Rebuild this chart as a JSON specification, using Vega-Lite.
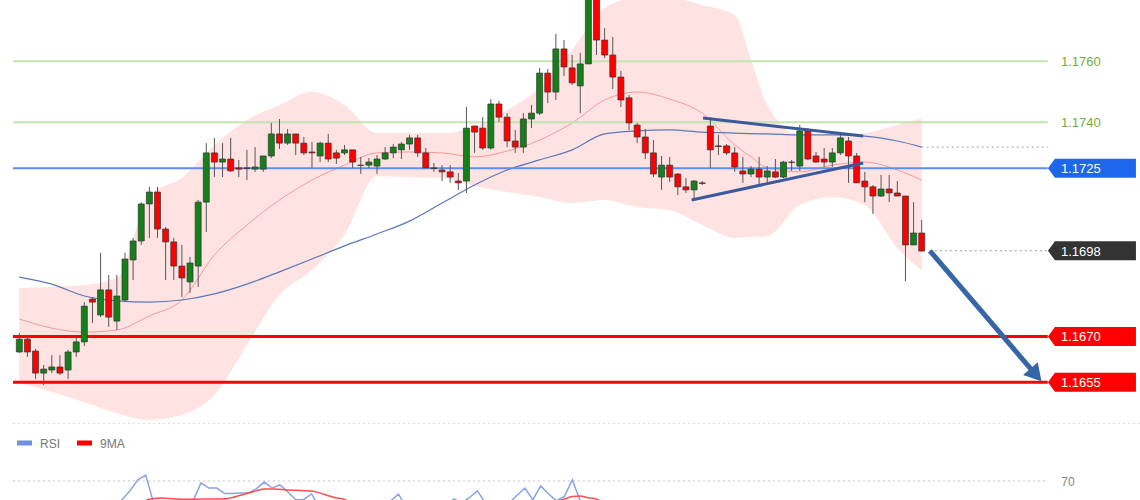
{
"$schema": "https://vega.github.io/schema/vega-lite/v6.json",
"padding": 0,
"spacing": 0,
"background": "white",
"config": {"view": {"stroke": null}, "text": {"font": "Liberation Sans"}, "scale": {"continuousPadding": 0}},
"datasets": {
"candles": [
{"i":0,"o":1.16649,"h":1.16711,"l":1.16646,"c":1.16691},
{"i":1,"o":1.16691,"h":1.16698,"l":1.16633,"c":1.16649},
{"i":2,"o":1.16652,"h":1.16659,"l":1.16561,"c":1.16580},
{"i":3,"o":1.16580,"h":1.16606,"l":1.16541,"c":1.16593},
{"i":4,"o":1.16590,"h":1.16639,"l":1.16580,"c":1.16600},
{"i":5,"o":1.16600,"h":1.16639,"l":1.16574,"c":1.16580},
{"i":6,"o":1.16590,"h":1.16656,"l":1.16561,"c":1.16649},
{"i":7,"o":1.16649,"h":1.16698,"l":1.16633,"c":1.16682},
{"i":8,"o":1.16682,"h":1.16812,"l":1.16669,"c":1.16799},
{"i":9,"o":1.16822,"h":1.16829,"l":1.16744,"c":1.16812},
{"i":10,"o":1.16770,"h":1.16973,"l":1.16763,"c":1.16852},
{"i":11,"o":1.16852,"h":1.16901,"l":1.16731,"c":1.16763},
{"i":12,"o":1.16750,"h":1.16901,"l":1.16721,"c":1.16832},
{"i":13,"o":1.16819,"h":1.16973,"l":1.16812,"c":1.16953},
{"i":14,"o":1.16950,"h":1.17022,"l":1.16884,"c":1.17012},
{"i":15,"o":1.17012,"h":1.17139,"l":1.16999,"c":1.17133},
{"i":16,"o":1.17133,"h":1.17189,"l":1.17022,"c":1.17172},
{"i":17,"o":1.17172,"h":1.17189,"l":1.17022,"c":1.17051},
{"i":18,"o":1.17051,"h":1.17058,"l":1.16884,"c":1.17009},
{"i":19,"o":1.17009,"h":1.17022,"l":1.16884,"c":1.16930},
{"i":20,"o":1.16930,"h":1.16999,"l":1.16829,"c":1.16891},
{"i":21,"o":1.16878,"h":1.16960,"l":1.16842,"c":1.16940},
{"i":22,"o":1.16930,"h":1.17146,"l":1.16862,"c":1.17139},
{"i":23,"o":1.17139,"h":1.17332,"l":1.17041,"c":1.17300},
{"i":24,"o":1.17300,"h":1.17349,"l":1.17221,"c":1.17270},
{"i":25,"o":1.17270,"h":1.17332,"l":1.17221,"c":1.17280},
{"i":26,"o":1.17280,"h":1.17349,"l":1.17238,"c":1.17241},
{"i":27,"o":1.17251,"h":1.17277,"l":1.17221,"c":1.17247},
{"i":28,"o":1.17251,"h":1.17310,"l":1.17211,"c":1.17249},
{"i":29,"o":1.17247,"h":1.17319,"l":1.17238,"c":1.17254},
{"i":30,"o":1.17247,"h":1.17290,"l":1.17238,"c":1.17290},
{"i":31,"o":1.17290,"h":1.17398,"l":1.17283,"c":1.17362},
{"i":32,"o":1.17362,"h":1.17411,"l":1.17313,"c":1.17332},
{"i":33,"o":1.17332,"h":1.17378,"l":1.17326,"c":1.17362},
{"i":34,"o":1.17362,"h":1.17362,"l":1.17293,"c":1.17332},
{"i":35,"o":1.17332,"h":1.17352,"l":1.17293,"c":1.17300},
{"i":36,"o":1.17303,"h":1.17336,"l":1.17251,"c":1.17300},
{"i":37,"o":1.17290,"h":1.17336,"l":1.17270,"c":1.17332},
{"i":38,"o":1.17332,"h":1.17362,"l":1.17270,"c":1.17280},
{"i":39,"o":1.17300,"h":1.17310,"l":1.17264,"c":1.17283},
{"i":40,"o":1.17300,"h":1.17326,"l":1.17293,"c":1.17310},
{"i":41,"o":1.17310,"h":1.17310,"l":1.17251,"c":1.17270},
{"i":42,"o":1.17260,"h":1.17287,"l":1.17231,"c":1.17259},
{"i":43,"o":1.17260,"h":1.17283,"l":1.17251,"c":1.17270},
{"i":44,"o":1.17257,"h":1.17293,"l":1.17231,"c":1.17280},
{"i":45,"o":1.17280,"h":1.17319,"l":1.17277,"c":1.17300},
{"i":46,"o":1.17300,"h":1.17329,"l":1.17283,"c":1.17319},
{"i":47,"o":1.17310,"h":1.17336,"l":1.17280,"c":1.17329},
{"i":48,"o":1.17329,"h":1.17359,"l":1.17310,"c":1.17349},
{"i":49,"o":1.17349,"h":1.17359,"l":1.17287,"c":1.17300},
{"i":50,"o":1.17300,"h":1.17316,"l":1.17251,"c":1.17251},
{"i":51,"o":1.17251,"h":1.17267,"l":1.17238,"c":1.17249},
{"i":52,"o":1.17244,"h":1.17260,"l":1.17208,"c":1.17238},
{"i":53,"o":1.17238,"h":1.17260,"l":1.17202,"c":1.17221},
{"i":54,"o":1.17208,"h":1.17234,"l":1.17179,"c":1.17202},
{"i":55,"o":1.17208,"h":1.17450,"l":1.17169,"c":1.17381},
{"i":56,"o":1.17388,"h":1.17388,"l":1.17300,"c":1.17368},
{"i":57,"o":1.17381,"h":1.17417,"l":1.17310,"c":1.17316},
{"i":58,"o":1.17316,"h":1.17476,"l":1.17310,"c":1.17460},
{"i":59,"o":1.17460,"h":1.17470,"l":1.17401,"c":1.17417},
{"i":60,"o":1.17417,"h":1.17430,"l":1.17319,"c":1.17339},
{"i":61,"o":1.17339,"h":1.17375,"l":1.17300,"c":1.17319},
{"i":62,"o":1.17319,"h":1.17430,"l":1.17300,"c":1.17411},
{"i":63,"o":1.17411,"h":1.17457,"l":1.17381,"c":1.17430},
{"i":64,"o":1.17430,"h":1.17578,"l":1.17424,"c":1.17561},
{"i":65,"o":1.17561,"h":1.17574,"l":1.17463,"c":1.17499},
{"i":66,"o":1.17499,"h":1.17689,"l":1.17473,"c":1.17640},
{"i":67,"o":1.17640,"h":1.17669,"l":1.17551,"c":1.17581},
{"i":68,"o":1.17578,"h":1.17620,"l":1.17522,"c":1.17529},
{"i":69,"o":1.17519,"h":1.17627,"l":1.17430,"c":1.17591},
{"i":70,"o":1.17591,"h":1.17826,"l":1.17591,"c":1.17807},
{"i":71,"o":1.17807,"h":1.17826,"l":1.17620,"c":1.17669},
{"i":72,"o":1.17669,"h":1.17708,"l":1.17610,"c":1.17620},
{"i":73,"o":1.17620,"h":1.17679,"l":1.17509,"c":1.17548},
{"i":74,"o":1.17548,"h":1.17568,"l":1.17450,"c":1.17473},
{"i":75,"o":1.17480,"h":1.17489,"l":1.17375,"c":1.17398},
{"i":76,"o":1.17391,"h":1.17398,"l":1.17332,"c":1.17352},
{"i":77,"o":1.17352,"h":1.17378,"l":1.17280,"c":1.17300},
{"i":78,"o":1.17300,"h":1.17342,"l":1.17221,"c":1.17231},
{"i":79,"o":1.17221,"h":1.17290,"l":1.17179,"c":1.17260},
{"i":80,"o":1.17260,"h":1.17287,"l":1.17205,"c":1.17221},
{"i":81,"o":1.17231,"h":1.17234,"l":1.17162,"c":1.17189},
{"i":82,"o":1.17189,"h":1.17218,"l":1.17169,"c":1.17179},
{"i":83,"o":1.17179,"h":1.17211,"l":1.17146,"c":1.17208},
{"i":84,"o":1.17202,"h":1.17208,"l":1.17195,"c":1.17200},
{"i":85,"o":1.17388,"h":1.17417,"l":1.17251,"c":1.17310},
{"i":86,"o":1.17323,"h":1.17359,"l":1.17293,"c":1.17321},
{"i":87,"o":1.17323,"h":1.17329,"l":1.17293,"c":1.17300},
{"i":88,"o":1.17300,"h":1.17319,"l":1.17238,"c":1.17254},
{"i":89,"o":1.17241,"h":1.17287,"l":1.17202,"c":1.17231},
{"i":90,"o":1.17231,"h":1.17257,"l":1.17221,"c":1.17247},
{"i":91,"o":1.17247,"h":1.17287,"l":1.17195,"c":1.17221},
{"i":92,"o":1.17221,"h":1.17257,"l":1.17202,"c":1.17241},
{"i":93,"o":1.17238,"h":1.17280,"l":1.17218,"c":1.17221},
{"i":94,"o":1.17221,"h":1.17274,"l":1.17218,"c":1.17270},
{"i":95,"o":1.17270,"h":1.17277,"l":1.17241,"c":1.17269},
{"i":96,"o":1.17257,"h":1.17391,"l":1.17241,"c":1.17372},
{"i":97,"o":1.17372,"h":1.17381,"l":1.17277,"c":1.17280},
{"i":98,"o":1.17290,"h":1.17303,"l":1.17267,"c":1.17270},
{"i":99,"o":1.17280,"h":1.17316,"l":1.17254,"c":1.17270},
{"i":100,"o":1.17270,"h":1.17316,"l":1.17254,"c":1.17300},
{"i":101,"o":1.17300,"h":1.17368,"l":1.17293,"c":1.17349},
{"i":102,"o":1.17339,"h":1.17352,"l":1.17202,"c":1.17290},
{"i":103,"o":1.17290,"h":1.17300,"l":1.17202,"c":1.17202},
{"i":104,"o":1.17208,"h":1.17238,"l":1.17139,"c":1.17189},
{"i":105,"o":1.17189,"h":1.17195,"l":1.17100,"c":1.17159},
{"i":106,"o":1.17159,"h":1.17228,"l":1.17156,"c":1.17182},
{"i":107,"o":1.17182,"h":1.17228,"l":1.17139,"c":1.17169},
{"i":108,"o":1.17169,"h":1.17208,"l":1.17159,"c":1.17159},
{"i":109,"o":1.17159,"h":1.17159,"l":1.16881,"c":1.16999},
{"i":110,"o":1.16999,"h":1.17139,"l":1.16999,"c":1.17038},
{"i":111,"o":1.17038,"h":1.17081,"l":1.16979,"c":1.16979}
],
"band": [
{"i":0,"up":1.16858,"lo":1.16548,"mid":1.16757,"ma":1.16894},
{"i":4,"up":1.16862,"lo":1.16518,"mid":1.16727,"ma":1.16871},
{"i":8,"up":1.16868,"lo":1.16485,"mid":1.16714,"ma":1.16832},
{"i":12,"up":1.16891,"lo":1.16449,"mid":1.16721,"ma":1.16816},
{"i":16,"up":1.17162,"lo":1.16427,"mid":1.16767,"ma":1.16812},
{"i":20,"up":1.17218,"lo":1.16443,"mid":1.16819,"ma":1.16819},
{"i":24,"up":1.17326,"lo":1.16508,"mid":1.16966,"ma":1.16839},
{"i":28,"up":1.17408,"lo":1.16672,"mid":1.17064,"ma":1.16871},
{"i":32,"up":1.17457,"lo":1.16835,"mid":1.17146,"ma":1.16911},
{"i":36,"up":1.17499,"lo":1.16917,"mid":1.17211,"ma":1.16953},
{"i":40,"up":1.17457,"lo":1.17032,"mid":1.17260,"ma":1.16996},
{"i":44,"up":1.17365,"lo":1.17224,"mid":1.17300,"ma":1.17035},
{"i":48,"up":1.17365,"lo":1.17221,"mid":1.17303,"ma":1.17077},
{"i":52,"up":1.17365,"lo":1.17218,"mid":1.17300,"ma":1.17136},
{"i":56,"up":1.17385,"lo":1.17192,"mid":1.17287,"ma":1.17195},
{"i":60,"up":1.17440,"lo":1.17172,"mid":1.17306,"ma":1.17244},
{"i":64,"up":1.17512,"lo":1.17156,"mid":1.17342,"ma":1.17277},
{"i":68,"up":1.17637,"lo":1.17136,"mid":1.17398,"ma":1.17310},
{"i":72,"up":1.17774,"lo":1.17146,"mid":1.17473,"ma":1.17362},
{"i":76,"up":1.17807,"lo":1.17123,"mid":1.17499,"ma":1.17372},
{"i":80,"up":1.17807,"lo":1.17113,"mid":1.17476,"ma":1.17375},
{"i":84,"up":1.17784,"lo":1.17064,"mid":1.17430,"ma":1.17368},
{"i":88,"up":1.17751,"lo":1.17022,"mid":1.17326,"ma":1.17365},
{"i":90,"up":1.17604,"lo":1.17025,"mid":1.17287,"ma":1.17363},
{"i":92,"up":1.17457,"lo":1.17028,"mid":1.17251,"ma":1.17362},
{"i":96,"up":1.17359,"lo":1.17130,"mid":1.17238,"ma":1.17359},
{"i":100,"up":1.17359,"lo":1.17156,"mid":1.17260,"ma":1.17359},
{"i":104,"up":1.17365,"lo":1.17130,"mid":1.17270,"ma":1.17355},
{"i":108,"up":1.17391,"lo":1.16990,"mid":1.17244,"ma":1.17339},
{"i":111,"up":1.17414,"lo":1.16915,"mid":1.17211,"ma":1.17319}
],
"levels": [
{"p":1.1760,"kind":"resistance","label":"1.1760"},
{"p":1.1740,"kind":"resistance","label":"1.1740"},
{"p":1.1725,"kind":"pivot","label":"1.1725"},
{"p":1.1698,"kind":"last","label":"1.1698"},
{"p":1.1670,"kind":"support","label":"1.1670"},
{"p":1.1655,"kind":"support","label":"1.1655"}
],
"trend": [
{"line":"upper","i":84.1,"p":1.17414},
{"line":"upper","i":103.8,"p":1.17355},
{"line":"lower","i":82.7,"p":1.17146},
{"line":"lower","i":103.8,"p":1.17267}
],
"arrow": [
{"i":112.0,"p":1.1698,"end":false},
{"i":125.05,"p":1.16574,"end":true}
],
"rsi": [
{"i":0,"rsi":45,"ma9":50},{"i":1,"rsi":42,"ma9":49},{"i":2,"rsi":38,"ma9":47},{"i":3,"rsi":40,"ma9":45},
{"i":4,"rsi":42,"ma9":44},{"i":5,"rsi":41,"ma9":43},{"i":6,"rsi":46,"ma9":43},{"i":7,"rsi":50,"ma9":44},
{"i":8,"rsi":56,"ma9":45},{"i":9,"rsi":55,"ma9":46},{"i":10,"rsi":58,"ma9":48},{"i":11,"rsi":54,"ma9":50},
{"i":12,"rsi":57,"ma9":52},{"i":13,"rsi":61.5,"ma9":54},{"i":14,"rsi":65.5,"ma9":56},{"i":15,"rsi":70.5,"ma9":58.5},
{"i":16,"rsi":72.7,"ma9":61.2},{"i":17,"rsi":60,"ma9":62},{"i":18,"rsi":56,"ma9":62.3},{"i":19,"rsi":52,"ma9":62},
{"i":20,"rsi":50,"ma9":61.8},{"i":21,"rsi":53,"ma9":61.7},{"i":22,"rsi":61,"ma9":61.7},{"i":23,"rsi":69.1,"ma9":61.8},
{"i":24,"rsi":66.8,"ma9":61.8},{"i":25,"rsi":66.8,"ma9":61.8},{"i":26,"rsi":64.3,"ma9":61.9},{"i":27,"rsi":64.3,"ma9":62.5},
{"i":28,"rsi":64.5,"ma9":63.5},{"i":29,"rsi":64.5,"ma9":64.5},{"i":30,"rsi":66.4,"ma9":65.5},{"i":31,"rsi":69.5,"ma9":66.3},
{"i":32,"rsi":66.8,"ma9":66.4},{"i":33,"rsi":68.2,"ma9":66.2},{"i":34,"rsi":65,"ma9":65.9},{"i":35,"rsi":61.5,"ma9":65.8},
{"i":36,"rsi":61.6,"ma9":65.6},{"i":37,"rsi":64.1,"ma9":65.4},{"i":38,"rsi":58,"ma9":64.6},{"i":39,"rsi":56,"ma9":63.4},
{"i":40,"rsi":57,"ma9":62.4},{"i":41,"rsi":54,"ma9":61.8},{"i":42,"rsi":53,"ma9":60},{"i":43,"rsi":55,"ma9":58.5},
{"i":44,"rsi":57,"ma9":57.5},{"i":45,"rsi":58,"ma9":57},{"i":46,"rsi":58,"ma9":56.5},{"i":47,"rsi":61,"ma9":56.5},
{"i":48,"rsi":64,"ma9":57},{"i":49,"rsi":58,"ma9":57},{"i":50,"rsi":53,"ma9":57},{"i":51,"rsi":53,"ma9":56.5},
{"i":52,"rsi":51,"ma9":56},{"i":53,"rsi":54,"ma9":55.5},{"i":54,"rsi":58.5,"ma9":55.5},{"i":55,"rsi":61.9,"ma9":56},
{"i":56,"rsi":60,"ma9":56.5},{"i":57,"rsi":62.5,"ma9":57},{"i":58,"rsi":65.5,"ma9":57.5},{"i":59,"rsi":60,"ma9":58},
{"i":60,"rsi":56,"ma9":58},{"i":61,"rsi":55,"ma9":58},{"i":62,"rsi":60,"ma9":58.5},{"i":63,"rsi":63.5,"ma9":59},
{"i":64,"rsi":66.8,"ma9":59.5},{"i":65,"rsi":61.5,"ma9":59.8},{"i":66,"rsi":67.7,"ma9":60},{"i":67,"rsi":64.1,"ma9":60.2},
{"i":68,"rsi":61,"ma9":60.6},{"i":69,"rsi":63,"ma9":61.8},{"i":70,"rsi":70.5,"ma9":62.9},{"i":71,"rsi":61,"ma9":63.2},
{"i":72,"rsi":57,"ma9":62.4},{"i":73,"rsi":53,"ma9":61.8},{"i":74,"rsi":49,"ma9":60},{"i":75,"rsi":45,"ma9":58},
{"i":76,"rsi":43,"ma9":56},{"i":77,"rsi":40,"ma9":54},{"i":78,"rsi":37,"ma9":51},{"i":79,"rsi":40,"ma9":48},
{"i":80,"rsi":38,"ma9":46},{"i":81,"rsi":36,"ma9":43},{"i":82,"rsi":35,"ma9":41},{"i":83,"rsi":38,"ma9":39.5},
{"i":84,"rsi":38,"ma9":38.5},{"i":85,"rsi":52,"ma9":39.5},{"i":86,"rsi":50,"ma9":41},{"i":87,"rsi":48,"ma9":42},
{"i":88,"rsi":45,"ma9":43},{"i":89,"rsi":43,"ma9":44},{"i":90,"rsi":44,"ma9":45},{"i":91,"rsi":42,"ma9":46},
{"i":92,"rsi":44,"ma9":46},{"i":93,"rsi":43,"ma9":45.5},{"i":94,"rsi":47,"ma9":45},{"i":95,"rsi":47,"ma9":45},
{"i":96,"rsi":56,"ma9":46},{"i":97,"rsi":50,"ma9":46.5},{"i":98,"rsi":49,"ma9":47},{"i":99,"rsi":48,"ma9":47.5},
{"i":100,"rsi":51,"ma9":48.5},{"i":101,"rsi":55,"ma9":49.5},{"i":102,"rsi":49,"ma9":50},{"i":103,"rsi":43,"ma9":49},
{"i":104,"rsi":42,"ma9":48},{"i":105,"rsi":39,"ma9":47},{"i":106,"rsi":41,"ma9":46},{"i":107,"rsi":40,"ma9":45},
{"i":108,"rsi":39,"ma9":44},{"i":109,"rsi":30,"ma9":42},{"i":110,"rsi":34,"ma9":40},{"i":111,"rsi":32,"ma9":38}
]
},
"vconcat": [
{
"width": 1140, "height": 424,
"layer": [
{"data": {"name": "band"},
 "mark": {"type": "area", "clip": true, "color": "#ffe3e3", "interpolate": "monotone"},
 "encoding": {
  "x": {"field": "i", "type": "quantitative", "scale": {"domain": [-2.374, 137.85], "nice": false, "zero": false, "padding": 0}, "axis": null},
  "y": {"field": "up", "type": "quantitative", "scale": {"domain": [1.164135, 1.178], "nice": false, "zero": false, "padding": 0}, "axis": null},
  "y2": {"field": "lo"}}},
{"data": {"name": "band"},
 "mark": {"type": "line", "clip": true, "color": "#f59a9a", "strokeWidth": 1, "interpolate": "monotone"},
 "encoding": {
  "x": {"field": "i", "type": "quantitative"},
  "y": {"field": "mid", "type": "quantitative"}}},
{"data": {"name": "band"},
 "mark": {"type": "line", "clip": true, "color": "#5a78b8", "strokeWidth": 1.2, "interpolate": "monotone"},
 "encoding": {
  "x": {"field": "i", "type": "quantitative"},
  "y": {"field": "ma", "type": "quantitative"}}},
{"data": {"name": "levels"},
 "transform": [{"filter": "datum.kind === 'resistance'"}],
 "mark": {"type": "rule", "color": "#c4e3b0", "strokeWidth": 2},
 "encoding": {"x": {"datum": -0.78, "type": "quantitative"}, "x2": {"datum": 126.5}, "y": {"field": "p", "type": "quantitative"}}},
{"data": {"name": "levels"},
 "transform": [{"filter": "datum.kind === 'pivot'"}],
 "mark": {"type": "rule", "color": "#5d8ff0", "strokeWidth": 2},
 "encoding": {"x": {"datum": -0.78, "type": "quantitative"}, "x2": {"datum": 126.5}, "y": {"field": "p", "type": "quantitative"}}},
{"data": {"name": "levels"},
 "transform": [{"filter": "datum.kind === 'support'"}],
 "mark": {"type": "rule", "color": "#ff0000", "strokeWidth": 3},
 "encoding": {"x": {"datum": -0.78, "type": "quantitative"}, "x2": {"datum": 126.5}, "y": {"field": "p", "type": "quantitative"}}},
{"data": {"name": "levels"},
 "transform": [{"filter": "datum.kind === 'last'"}],
 "mark": {"type": "rule", "color": "#9a9a9a", "strokeWidth": 1, "strokeDash": [2, 3]},
 "encoding": {"x": {"datum": 112, "type": "quantitative"}, "x2": {"datum": 126.5}, "y": {"field": "p", "type": "quantitative"}}},
{"data": {"name": "band"},
 "transform": [{"filter": "datum.i === 111"}],
 "mark": {"type": "rule", "color": "#8ea4cf", "strokeWidth": 1, "strokeDash": [2, 3]},
 "encoding": {"x": {"field": "i", "type": "quantitative"}, "x2": {"datum": 126.5}, "y": {"field": "ma", "type": "quantitative"}}},
{"data": {"values": [{"p": 1.164151}]},
 "mark": {"type": "rule", "color": "#dddddd", "strokeWidth": 1, "strokeDash": [2, 3]},
 "encoding": {"x": {"datum": -0.78, "type": "quantitative"}, "x2": {"datum": 137.85}, "y": {"field": "p", "type": "quantitative"}}},
{"data": {"name": "candles"},
 "mark": {"type": "rule", "clip": true, "color": "#555555", "strokeWidth": 1},
 "encoding": {"x": {"field": "i", "type": "quantitative"}, "y": {"field": "l", "type": "quantitative"}, "y2": {"field": "h"}}},
{"data": {"name": "candles"},
 "mark": {"type": "bar", "clip": true, "size": 6, "stroke": "#333333", "strokeWidth": 0.7},
 "encoding": {"x": {"field": "i", "type": "quantitative"}, "y": {"field": "o", "type": "quantitative"}, "y2": {"field": "c"},
  "fill": {"condition": {"test": "datum.c >= datum.o", "value": "#15801a"}, "value": "#ff0000"}}},
{"data": {"name": "trend"},
 "mark": {"type": "line", "color": "#3a5a9c", "strokeWidth": 3},
 "encoding": {"x": {"field": "i", "type": "quantitative"}, "y": {"field": "p", "type": "quantitative"}, "detail": {"field": "line"}}},
{"data": {"name": "arrow"},
 "mark": {"type": "line", "color": "#3766a6", "strokeWidth": 5},
 "encoding": {"x": {"field": "i", "type": "quantitative"}, "y": {"field": "p", "type": "quantitative"}}},
{"data": {"name": "arrow"},
 "transform": [{"filter": "datum.end"}],
 "mark": {"type": "point", "shape": "triangle-up", "filled": true, "color": "#3766a6", "size": 380, "angle": 139, "opacity": 1},
 "encoding": {"x": {"field": "i", "type": "quantitative"}, "y": {"field": "p", "type": "quantitative"}}},
{"data": {"name": "levels"},
 "transform": [{"filter": "datum.kind !== 'resistance'"}],
 "mark": {"type": "point", "shape": "M -4.63 0 L -3.9 -1 L 4.63 -1 L 4.63 1 L -3.9 1 Z", "filled": true, "size": 361, "opacity": 1, "strokeWidth": 0},
 "encoding": {"x": {"datum": 131.94, "type": "quantitative"}, "y": {"field": "p", "type": "quantitative"},
  "fill": {"condition": [{"test": "datum.kind === 'pivot'", "value": "#1f66ee"}, {"test": "datum.kind === 'last'", "value": "#333333"}], "value": "#ff0000"}}},
{"data": {"name": "levels"},
 "mark": {"type": "text", "align": "left", "baseline": "middle", "fontSize": 13, "font": "Liberation Sans", "dy": 1},
 "encoding": {"x": {"datum": 128.13, "type": "quantitative"}, "y": {"field": "p", "type": "quantitative"}, "text": {"field": "label"},
  "color": {"condition": {"test": "datum.kind === 'resistance'", "value": "#6fae40"}, "value": "#ffffff"}}}
]
},
{
"width": 1140, "height": 76,
"layer": [
{"data": {"values": [{"v": 70, "label": "70"}]},
 "mark": {"type": "rule", "color": "#c4c4c4", "strokeWidth": 1, "strokeDash": [2, 3]},
 "encoding": {
  "x": {"datum": -0.8, "type": "quantitative", "scale": {"domain": [-2.443, 141.86], "nice": false, "zero": false, "padding": 0}, "axis": null},
  "x2": {"datum": 130.1},
  "y": {"field": "v", "type": "quantitative", "scale": {"domain": [60.9, 95.45], "nice": false, "zero": false, "padding": 0}, "axis": null}}},
{"data": {"values": [{"v": 70, "label": "70"}]},
 "mark": {"type": "text", "align": "left", "baseline": "middle", "fontSize": 12, "color": "#888888", "font": "Liberation Sans", "dy": 1},
 "encoding": {"x": {"datum": 131.9, "type": "quantitative"}, "y": {"field": "v", "type": "quantitative"}, "text": {"field": "label"}}},
{"data": {"name": "rsi"},
 "mark": {"type": "line", "clip": true, "color": "#87a3e8", "strokeWidth": 1.5},
 "encoding": {"x": {"field": "i", "type": "quantitative"}, "y": {"field": "rsi", "type": "quantitative"}}},
{"data": {"name": "rsi"},
 "mark": {"type": "line", "clip": true, "color": "#ff3b3b", "strokeWidth": 1.5, "opacity": 0.9, "interpolate": "monotone"},
 "encoding": {"x": {"field": "i", "type": "quantitative"}, "y": {"field": "ma9", "type": "quantitative"}}},
{"data": {"values": [{"name": "RSI", "v": 87.27}]},
 "mark": {"type": "rule", "color": "#6f8fe0", "strokeWidth": 5},
 "encoding": {"x": {"datum": -0.29, "type": "quantitative"}, "x2": {"datum": 1.61}, "y": {"field": "v", "type": "quantitative"}}},
{"data": {"values": [{"name": "9MA", "v": 87.27}]},
 "mark": {"type": "rule", "color": "#ff0000", "strokeWidth": 5},
 "encoding": {"x": {"datum": 7.3, "type": "quantitative"}, "x2": {"datum": 9.2}, "y": {"field": "v", "type": "quantitative"}}},
{"data": {"values": [{"name": "RSI", "v": 87.27}]},
 "mark": {"type": "text", "align": "left", "baseline": "middle", "fontSize": 12, "color": "#777777", "font": "Liberation Sans", "dy": 1},
 "encoding": {"x": {"datum": 2.62, "type": "quantitative"}, "y": {"field": "v", "type": "quantitative"}, "text": {"field": "name"}}},
{"data": {"values": [{"name": "9MA", "v": 87.27}]},
 "mark": {"type": "text", "align": "left", "baseline": "middle", "fontSize": 12, "color": "#777777", "font": "Liberation Sans", "dy": 1},
 "encoding": {"x": {"datum": 10.22, "type": "quantitative"}, "y": {"field": "v", "type": "quantitative"}, "text": {"field": "name"}}}
]
}
]
}
